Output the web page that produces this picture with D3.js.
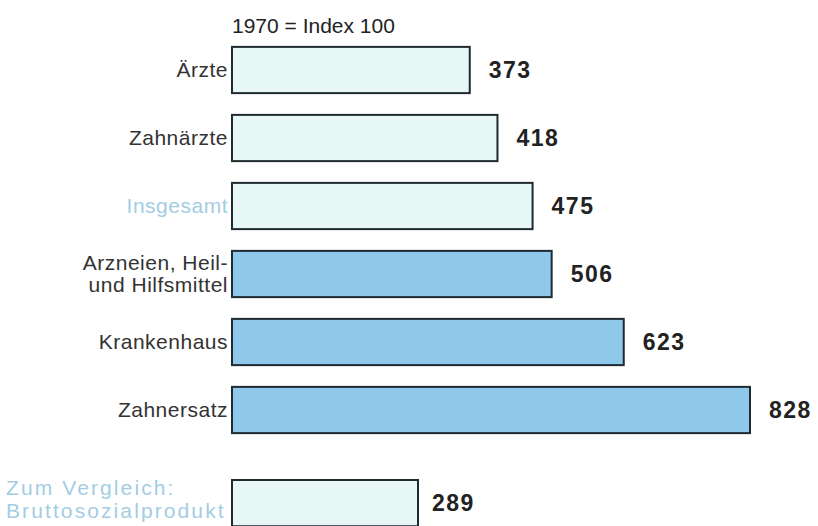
<!DOCTYPE html>
<html>
<head>
<meta charset="utf-8">
<title>Index 1970 = 100</title>
<style>
  body { margin: 0; background: #fff; }
  text { font-family: "Liberation Sans", Arial, sans-serif; }
  .lbl { font-size: 21px; fill: #333; text-anchor: end; letter-spacing: 0.5px; }
  .lbl.light { fill: #a3cde3; }
  .val { font-size: 23px; font-weight: bold; fill: #222; letter-spacing: 1.5px; }
  .bar { stroke: #1e2a30; stroke-width: 2; }
</style>
</head>
<body>
<svg width="818" height="526"></svg>
<script src="https://d3js.org/d3.v7.min.js"></script>
<script>
var categories = ["Ärzte", "Zahnärzte", "Insgesamt", "Arzneien, Heil-|und Hilfsmittel", "Krankenhaus", "Zahnersatz"];
var values = [373, 418, 475, 506, 623, 828];
var shade = ["pale", "pale", "pale", "blue", "blue", "blue"];
var compareLabel = ["Zum Vergleich:", "Bruttosozialprodukt"];
var compareValue = 289;
var title = "1970 = Index 100";

var svg = d3.select("svg");
var colors = { pale: "#e6f7f5", blue: "#8ec9ec" };

var x = d3.scaleLinear().domain([0, 828]).range([240, 750]);
var barLeft = 232;

var y = d3.scaleBand()
    .domain(categories)
    .range([36, 444])
    .paddingInner(0.32)
    .paddingOuter(0.16);

svg.append("text")
    .attr("x", barLeft)
    .attr("y", 33)
    .attr("font-size", 21)
    .attr("fill", "#222")
    .text(title);

var rows = svg.selectAll(".row")
    .data(categories)
    .enter().append("g")
    .attr("class", "row")
    .attr("transform", function(d) { return "translate(0," + y(d) + ")"; });

rows.append("rect")
    .attr("class", "bar")
    .attr("x", barLeft)
    .attr("y", 0)
    .attr("width", function(d, i) { return x(values[i]) - barLeft; })
    .attr("height", y.bandwidth())
    .attr("fill", function(d, i) { return colors[shade[i]]; });

rows.append("text")
    .attr("class", "val")
    .attr("x", function(d, i) { return x(values[i]) + 19; })
    .attr("y", y.bandwidth() / 2)
    .attr("dy", "0.35em")
    .text(function(d, i) { return values[i]; });

rows.each(function(d) {
    var lines = d.split("|");
    var t = d3.select(this).append("text")
        .attr("class", "lbl" + (d === "Insgesamt" ? " light" : ""))
        .attr("x", 228)
        .attr("y", y.bandwidth() / 2 - (lines.length - 1) * 11)
        .attr("dy", "0.35em");
    lines.forEach(function(l, j) {
        t.append("tspan").attr("x", 228).attr("dy", j === 0 ? "0.35em" : 22).text(l);
    });
});

// comparison bar
var cy = 480, ch = y.bandwidth();
svg.append("rect")
    .attr("class", "bar")
    .attr("x", barLeft)
    .attr("y", cy)
    .attr("width", x(compareValue) - barLeft)
    .attr("height", ch)
    .attr("fill", colors.pale);

svg.append("text")
    .attr("class", "val")
    .attr("x", x(compareValue) + 14)
    .attr("y", cy + ch / 2)
    .attr("dy", "0.35em")
    .text(compareValue);

var ct = svg.append("text")
    .attr("class", "lbl light")
    .style("text-anchor", "start")
    .style("letter-spacing", "2.1px");
compareLabel.forEach(function(l, j) {
    ct.append("tspan").attr("x", 6).attr("y", 495 + j * 23).text(l);
});
</script>
</body>
</html>
